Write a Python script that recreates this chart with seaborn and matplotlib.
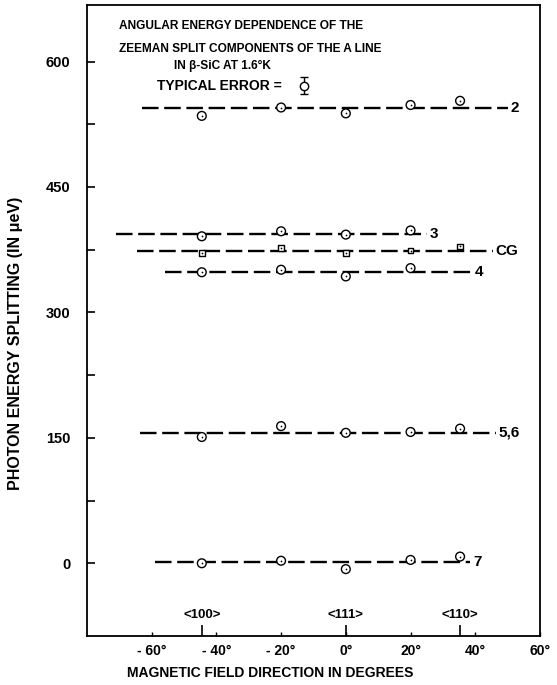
import numpy as np
import pandas as pd
import matplotlib.pyplot as plt
import seaborn as sns

# measured field directions (deg from <111>)
angles = [-44.5, -20, 0, 20, 35.3]

components = ["2", "3", "CG", "4", "5,6", "7"]
levels = [544, 394, 374, 348, 156, 1]
line_start = [-63, -71, -64.5, -56, -63.5, -59]
line_end = [50, 25, 45.5, 39, 46.5, 38.5]
values = {
    "2": [535, 545, 538, 548, 553],
    "3": [391, 397, 393, 398, np.nan],
    "CG": [371, 377, 371, 374, 379],
    "4": [348, 351, 343, 353, np.nan],
    "5,6": [151, 164, 156, 157, 161],
    "7": [0, 3, -7, 4, 8],
}

direction_names = ["<100>", "<111>", "<110>"]
direction_angles = [-44.5, 0, 35.3]

xticks = [-60, -40, -20, 0, 20, 40, 60]
xticklabels = ["- 60°", "- 40°", "- 20°", "0°", "20°", "40°", "60°"]
yticks = [0, 150, 300, 450, 600]
yminor = [75, 225, 375, 525]

err_x, err_y, err_size = -13, 571, 10

rows = []
for c in components:
    for a, v in zip(angles, values[c]):
        if not np.isnan(v):
            rows.append({"component": c, "angle": a, "energy": v,
                         "shape": "square" if c == "CG" else "circle"})
df = pd.DataFrame(rows)

sns.set_style("white")
plt.rcParams["font.family"] = ["Liberation Sans", "DejaVu Sans"]
plt.rcParams.update({"text.color": "black", "axes.labelcolor": "black",
                     "xtick.color": "black", "ytick.color": "black",
                     "font.weight": "bold", "axes.labelweight": "bold"})

fig = plt.figure(figsize=(5.57, 6.85), dpi=100)
ax = fig.add_axes([0.156, 0.0715, 0.8135, 0.9205])

# dashed component lines
for c, lv, x0, x1 in zip(components, levels, line_start, line_end):
    ax.hlines(lv, x0, x1, colors="black", linewidth=1.7, linestyles=(0, (7, 2.4)))
    ax.text(x1 + 0.8, lv, c, fontsize=11, va="center", ha="left")

sns.scatterplot(data=df, x="angle", y="energy", style="shape", size="shape",
                markers={"circle": "o", "square": "s"},
                sizes={"circle": 40, "square": 16},
                facecolor="white", edgecolor="black", linewidth=1.0,
                legend=False, ax=ax, zorder=3)
sns.scatterplot(data=df, x="angle", y="energy", marker=".", s=6,
                color="black", linewidth=0, legend=False, ax=ax, zorder=4)

# typical error symbol
ax.errorbar([err_x], [err_y], yerr=[err_size], fmt="o", ms=6, mfc="white",
            mec="black", ecolor="black", elinewidth=1, capsize=3, capthick=1)
ax.plot([err_x], [err_y], ".", ms=2, color="black")
ax.text(-58.4, err_y, "TYPICAL ERROR =", fontsize=10, va="center", ha="left")

ax.text(-70.2, 643, "ANGULAR ENERGY DEPENDENCE OF THE", fontsize=8.6,
        va="center", ha="left")
ax.text(-70.2, 615, "ZEEMAN SPLIT COMPONENTS OF THE A LINE", fontsize=8.6,
        va="center", ha="left")
ax.text(-53, 595, "IN β-SiC AT 1.6°K", fontsize=8.6, va="center", ha="left")

for name, a in zip(direction_names, direction_angles):
    ax.text(a, -62, name, fontsize=9.5, ha="center", va="center")

ax.set_xlim(-80, 60)
ax.set_ylim(-87, 667)

ax.set_xticks(xticks)
ax.set_xticklabels(xticklabels, fontsize=10)
ax.set_xticks(direction_angles, minor=True)
ax.xaxis.remove_overlapping_locs = False
ax.tick_params(axis="x", which="major", direction="in", length=3, width=1, pad=6)
ax.tick_params(axis="x", which="minor", direction="in", length=8, width=1.2)

ax.set_yticks(yticks)
ax.set_yticklabels([str(t) for t in yticks], fontsize=10.5)
ax.set_yticks(yminor, minor=True)
ax.tick_params(axis="y", which="both", direction="in", length=6, width=1.2, pad=12, left=True)
ax.tick_params(axis="x", bottom=True, which="both")

for sp in ax.spines.values():
    sp.set_linewidth(1.3)
    sp.set_color("black")

ax.set_xlabel("MAGNETIC FIELD DIRECTION IN DEGREES", fontsize=10)
ax.xaxis.set_label_coords(0.404, -0.047)
ax.set_ylabel("PHOTON ENERGY SPLITTING (IN μeV)", fontsize=11.5)
ax.yaxis.set_label_coords(-0.141, 0.464)

fig.savefig("out.png", dpi=100, facecolor="white")
